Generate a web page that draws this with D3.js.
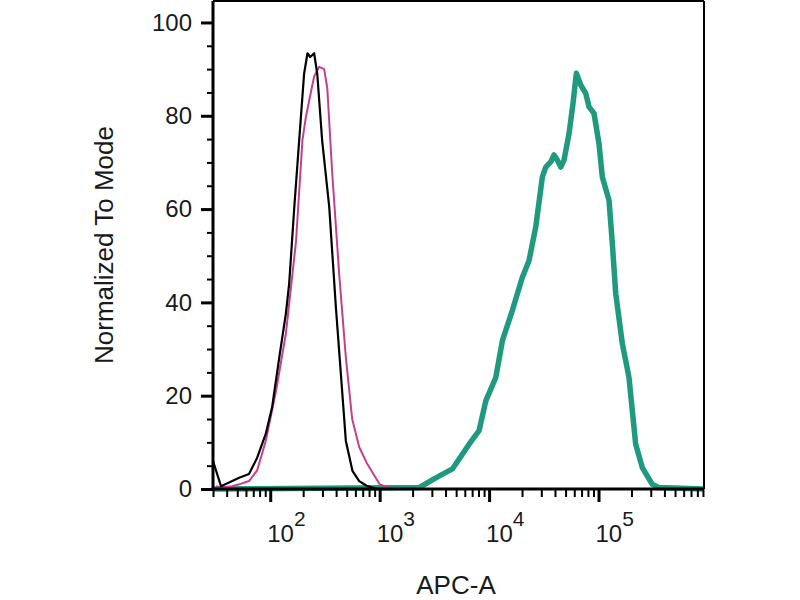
<!DOCTYPE html>
<html>
<head>
<meta charset="utf-8">
<script src="https://cdn.jsdelivr.net/npm/d3@7"></script>
<style>
  body { margin: 0; background: #fff; }
  text { font-family: "Liberation Sans", Arial, sans-serif; fill: #1a1a1a; }
</style>
</head>
<body>
<script>
// Histogram traces: [APC-A value, % of mode]
const blackTrace = [
  [30, 6], [35.5, 0.6], [45, 1.7], [52, 2.4], [64, 3.2], [76, 6.7], [91, 11.8],
  [104, 17.5], [121, 28.2], [139, 37.6], [149, 44], [166, 60.5], [184, 74.8],
  [204, 89], [219, 93.4], [232, 92.6], [252, 93.4], [269, 89], [298, 74.8],
  [346, 60.5], [398, 39], [442, 24.7], [491, 10.3], [564, 3.9], [650, 1.7],
  [760, 0.7], [854, 0.3], [1000, 0], [2000, 0]
];
const magentaTrace = [
  [32, 0.6], [36, 0.3], [45, 0.6], [52, 1], [64, 1.7], [76, 4], [91, 10.3],
  [113, 21], [139, 33.3], [172, 53], [197, 74.8], [212, 79.8], [235, 85],
  [252, 88.4], [280, 90.5], [311, 90], [332, 86], [368, 68], [427, 46],
  [491, 28.2], [561, 15], [650, 9], [769, 5.4], [1000, 1], [1300, 0], [2000, 0]
];
const tealTrace = [
  [30, 0], [2294, 0.3], [3260, 2.4], [4620, 4.3], [6570, 9.6], [8100, 12.5],
  [9330, 18.9], [11510, 23.9], [13230, 31.8], [16320, 38.3], [20140, 45.4],
  [23190, 49], [26700, 56.2], [30680, 66.9], [32950, 69], [36600, 70.1],
  [39230, 71.6], [42040, 70.5], [45160, 69], [48410, 70.5], [53780, 76.2],
  [58500, 82.7], [62700, 89.1], [68780, 86.6], [76400, 84.8], [81900, 81.9],
  [90970, 80.5], [101000, 74], [108300, 66.9], [124700, 61.9], [133700, 52.6],
  [143600, 41.9], [165000, 31.2], [189900, 23.9], [203500, 16.8], [218600, 9.6],
  [251200, 4.6], [309900, 1], [356900, 0.3], [920000, 0]
];

const xMajorTicks = [1e2, 1e3, 1e4, 1e5];
const xMajorExponents = ['2', '3', '4', '5'];
const yMajorTicks = [0, 20, 40, 60, 80, 100];
const xTitle = 'APC-A';
const yTitle = 'Normalized To Mode';

const W = 800, H = 600;
const LEFT = 213, RIGHT = 704, TOP = 1, BOTTOM = 489;

const svg = d3.select('body').append('svg')
  .attr('width', W)
  .attr('height', H);

const x = d3.scaleLog().domain([30, 920000]).range([LEFT, RIGHT]);
const y = d3.scaleLinear().domain([0, 104.6]).range([BOTTOM, TOP]);

// minor ticks: 2..9 in each decade inside the domain
const xMinorTicks = [];
for (let e = 1; e <= 5; e++) {
  for (let m = 2; m <= 9; m++) {
    const v = m * Math.pow(10, e);
    if (v >= 30 && v <= 920000) xMinorTicks.push(v);
  }
}
const yMinorTicks = d3.range(5, 105, 5).filter(v => v % 20 !== 0);

const plot = svg.append('g');

const line = d3.line()
  .x(d => x(d[0]))
  .y(d => y(d[1]));

plot.append('path')
  .datum(tealTrace)
  .attr('fill', 'none')
  .attr('stroke', '#1f9a7f')
  .attr('stroke-width', 5.5)
  .attr('stroke-linejoin', 'round')
  .attr('d', line);

plot.append('path')
  .datum(magentaTrace)
  .attr('fill', 'none')
  .attr('stroke', '#c2408f')
  .attr('stroke-width', 2)
  .attr('stroke-linejoin', 'round')
  .attr('d', line);

plot.append('path')
  .datum(blackTrace)
  .attr('fill', 'none')
  .attr('stroke', '#000')
  .attr('stroke-width', 2.2)
  .attr('stroke-linejoin', 'round')
  .attr('d', line);

// frame: top and right thin lines
svg.append('line')
  .attr('x1', LEFT).attr('x2', RIGHT).attr('y1', TOP).attr('y2', TOP)
  .attr('stroke', '#000').attr('stroke-width', 2);
svg.append('line')
  .attr('x1', RIGHT).attr('x2', RIGHT).attr('y1', TOP).attr('y2', BOTTOM)
  .attr('stroke', '#000').attr('stroke-width', 2);

// x axis: minor then major ticks
const xMinor = svg.append('g')
  .attr('transform', 'translate(0,' + BOTTOM + ')')
  .call(d3.axisBottom(x).tickValues(xMinorTicks).tickSize(8).tickFormat(''));
const xMajor = svg.append('g')
  .attr('transform', 'translate(0,' + BOTTOM + ')')
  .call(d3.axisBottom(x).tickValues(xMajorTicks).tickSize(13).tickFormat(''));
xMinor.selectAll('line').attr('stroke-width', 2);
xMajor.selectAll('line').attr('stroke-width', 3);
xMinor.select('.domain').remove();
xMajor.select('.domain')
  .attr('d', 'M' + (LEFT - 1.5) + ',0H' + RIGHT)
  .attr('stroke-width', 3);

const xLabels = svg.append('g');
xMajorTicks.forEach((v, i) => {
  const t = xLabels.append('text')
    .attr('x', x(v) - 3)
    .attr('y', 542)
    .attr('font-size', 24);
  t.append('tspan').text('10');
  t.append('tspan').attr('dy', -16).attr('font-size', 21).text(xMajorExponents[i]);
});

// y axis
const yMinor = svg.append('g')
  .attr('transform', 'translate(' + LEFT + ',0)')
  .call(d3.axisLeft(y).tickValues(yMinorTicks).tickSize(6).tickFormat(''));
const yMajor = svg.append('g')
  .attr('transform', 'translate(' + LEFT + ',0)')
  .call(d3.axisLeft(y).tickValues(yMajorTicks).tickSize(12).tickPadding(9).tickFormat(d3.format('d')));
yMinor.selectAll('line').attr('stroke-width', 2);
yMajor.selectAll('line').attr('stroke-width', 3);
yMinor.select('.domain').remove();
yMajor.select('.domain')
  .attr('d', 'M0,' + TOP + 'V' + (BOTTOM + 1.5))
  .attr('stroke-width', 3);
yMajor.selectAll('text')
  .attr('font-size', 24)
  .attr('font-family', '"Liberation Sans", Arial, sans-serif')
  .attr('fill', '#1a1a1a');

// axis titles
svg.append('text')
  .attr('x', 456)
  .attr('y', 594)
  .attr('text-anchor', 'middle')
  .attr('font-size', 26)
  .text(xTitle);

svg.append('text')
  .attr('transform', 'translate(113,245) rotate(-90)')
  .attr('text-anchor', 'middle')
  .attr('font-size', 26)
  .text(yTitle);
</script>
</body>
</html>
